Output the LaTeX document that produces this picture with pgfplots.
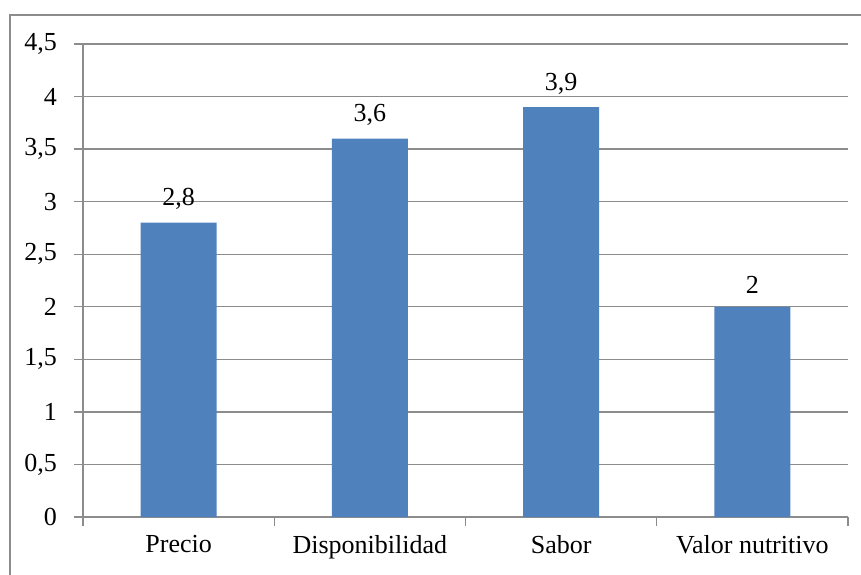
\documentclass[border=0pt]{standalone}
\usepackage{fontspec}
\setmainfont{Liberation Serif}
\newfontfamily\tnr{Liberation Serif}
\usepackage{pgfplots}
\pgfplotsset{compat=1.18}

\definecolor{barblue}{HTML}{4F81BD}
\definecolor{gridgray}{HTML}{8C8C8C}

\begin{document}
\begin{tikzpicture}[x=1pt,y=1pt]
\useasboundingbox (-41.5,-28.5) rectangle (389,258.5);
\draw[gridgray, line width=0.7pt] (-36.5,-40) -- (-36.5,251) -- (400,251);
\begin{axis}[
  at={(0,0)}, anchor=south west,
  scale only axis,
  width=382.5pt, height=236.5pt,
  font=\tnr\fontsize{13}{15}\selectfont,
  ymin=0, ymax=4.5,
  ytick={0,0.5,...,4.5},
  xmin=-0.5, xmax=3.5,
  xtick={-0.5,0.5,1.5,2.5,3.5},
  x tick label as interval=true,
  xticklabels={Precio,Disponibilidad,Sabor,Valor nutritivo},
  axis lines*=left,
  axis line style={gridgray, line width=0.7pt},
  tick style={gridgray, line width=0.7pt},
  tick align=outside,
  major tick length=4.5pt,
  ymajorgrids, grid style={gridgray, line width=0.7pt},
  /pgf/number format/use comma,
  /pgf/number format/assume math mode=true,
  yticklabel style={xshift=-5pt},
  xticklabel style={yshift=-1pt},
  ybar, bar width=38pt,
  nodes near coords,
  nodes near coords style={font=\tnr\fontsize{13}{15}\selectfont, yshift=3pt,
    /pgf/number format/use comma},
]
\addplot[fill=barblue, draw=none] coordinates {(0,2.8) (1,3.6) (2,3.9) (3,2)};
\end{axis}
\end{tikzpicture}
\end{document}
